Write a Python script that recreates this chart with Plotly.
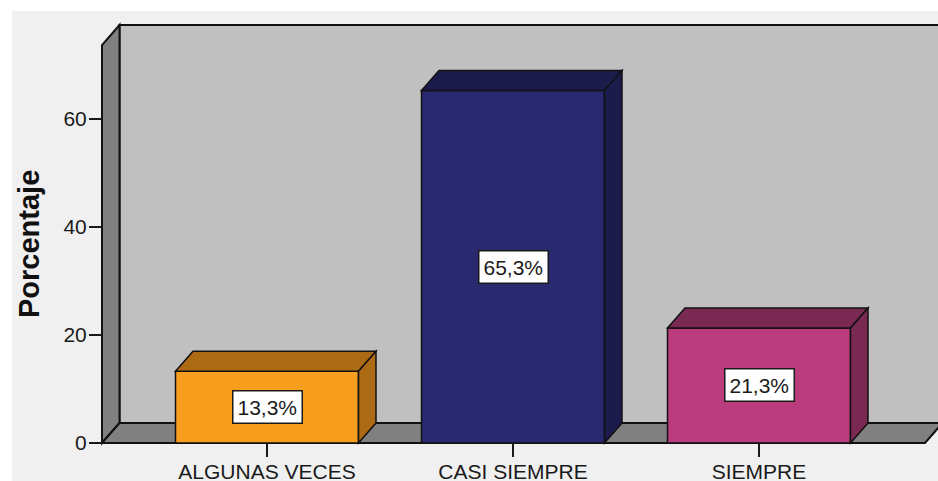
import plotly.graph_objects as go

# ---- data -------------------------------------------------------------
categories = ["ALGUNAS VECES", "CASI SIEMPRE", "SIEMPRE"]
percentages = [13.3, 65.3, 21.3]
front_colors = ["#f79e1e", "#29296f", "#bb3c7c"]
shade_colors = ["#ad6a14", "#1c1c4c", "#7a2a52"]
y_ticks = [0, 20, 40, 60]

# ---- layout geometry (pixels -> axis units) ----------------------------
W, H = 938, 481
PX_PER_CAT = 246.0      # horizontal distance between categories
PX_PER_PCT = 5.4        # vertical pixels per percentage point
CAT0_PX = 267.0         # x pixel of the first category
ZERO_PX = 443.0         # y pixel of the 0 % baseline (front plane)
WALL_PX = 102.0         # x pixel of the front edge of the left wall
FLOOR_END_PX = 925.0    # x pixel where the floor's front edge ends

x_min = -CAT0_PX / PX_PER_CAT
x_max = (W - CAT0_PX) / PX_PER_CAT
y_min = -(H - ZERO_PX) / PX_PER_PCT
y_max = ZERO_PX / PX_PER_PCT

DX = 17.5 / PX_PER_CAT          # depth offset (x units)
DY = 20.0 / PX_PER_PCT          # depth offset (y units)
AXIS_TOP = 73.7                 # height of the side wall
BAR_W = 183.0 / PX_PER_CAT
XL = (WALL_PX - CAT0_PX) / PX_PER_CAT
XR = (FLOOR_END_PX - CAT0_PX) / PX_PER_CAT

EDGE = dict(color="#111111", width=2)
FONT = "Arial, Liberation Sans, sans-serif"

fig = go.Figure()

fig.add_trace(go.Bar(
    x=list(range(len(categories))),
    y=percentages,
    width=BAR_W,
    marker=dict(color=front_colors, line=dict(color="#111111", width=1.5)),
    hoverinfo="skip",
))


def poly(pts):
    return "M " + " L ".join(f"{px:.5f},{py:.5f}" for px, py in pts) + " Z"


shapes = [
    # light frame background
    dict(type="rect", xref="paper", yref="paper", x0=12 / W, x1=1.01,
         y0=-0.01, y1=1 - 11 / H, fillcolor="#f0f0f0", line=dict(width=0),
         layer="below"),
    # back wall
    dict(type="path", xref="x", yref="y", layer="below",
         path=poly([(XL + DX, DY), (XL + DX, AXIS_TOP + DY),
                    (XR + DX, AXIS_TOP + DY), (XR + DX, DY)]),
         fillcolor="#c0c0c0", line=EDGE),
    # left wall
    dict(type="path", xref="x", yref="y", layer="below",
         path=poly([(XL, 0), (XL, AXIS_TOP), (XL + DX, AXIS_TOP + DY),
                    (XL + DX, DY)]),
         fillcolor="#808080", line=EDGE),
    # floor
    dict(type="path", xref="x", yref="y", layer="below",
         path=poly([(XL, 0), (XL + DX, DY), (XR + DX, DY), (XR, 0)]),
         fillcolor="#808080", line=EDGE),
]

# top and side faces of each bar
for i, (v, shade) in enumerate(zip(percentages, shade_colors)):
    l, r = i - BAR_W / 2, i + BAR_W / 2
    shapes.append(dict(type="path", xref="x", yref="y", layer="above",
                       path=poly([(l, v), (l + DX, v + DY), (r + DX, v + DY), (r, v)]),
                       fillcolor=shade, line=dict(color="#111111", width=1.5)))
    shapes.append(dict(type="path", xref="x", yref="y", layer="above",
                       path=poly([(r, 0), (r, v), (r + DX, v + DY), (r + DX, DY)]),
                       fillcolor=shade, line=dict(color="#111111", width=1.5)))

annotations = []
for i, v in enumerate(percentages):
    annotations.append(dict(
        x=i, y=v / 2, xref="x", yref="y",
        text=f"{v:.1f}".replace(".", ",") + "%",
        showarrow=False, font=dict(family=FONT, size=21, color="#1a1a1a"),
        bgcolor="white", bordercolor="#1a1a1a", borderwidth=1.5, borderpad=4,
        xanchor="center", yanchor="middle",
    ))

annotations.append(dict(
    x=29 / W, y=1 - 244 / H, xref="paper", yref="paper",
    text="<b>Porcentaje</b>", textangle=-90, showarrow=False,
    font=dict(family=FONT, size=29, color="#111111"),
    xanchor="center", yanchor="middle",
))

fig.update_layout(
    width=W, height=H,
    margin=dict(l=0, r=0, t=0, b=0),
    paper_bgcolor="white", plot_bgcolor="rgba(0,0,0,0)",
    showlegend=False,
    shapes=shapes, annotations=annotations,
    xaxis=dict(
        range=[x_min, x_max], domain=[0, 1], anchor="free",
        position=(H - ZERO_PX) / H,
        tickvals=list(range(len(categories))), ticktext=categories,
        ticks="outside", ticklen=13, tickwidth=2, tickcolor="#1a1a1a",
        ticklabelstandoff=-3,
        tickfont=dict(family=FONT, size=21, color="#1a1a1a"),
        showgrid=False, zeroline=False, showline=False, automargin=False,
        fixedrange=True,
    ),
    yaxis=dict(
        range=[y_min, y_max], domain=[0, 1], anchor="free",
        position=WALL_PX / W,
        tickvals=y_ticks, ticktext=[str(t) for t in y_ticks],
        ticks="outside", ticklen=13, tickwidth=2, tickcolor="#1a1a1a",
        ticklabelstandoff=-2,
        tickfont=dict(family=FONT, size=21, color="#1a1a1a"),
        showgrid=False, zeroline=False, showline=False, automargin=False,
        fixedrange=True,
    ),
)

fig.write_html("out.html")
